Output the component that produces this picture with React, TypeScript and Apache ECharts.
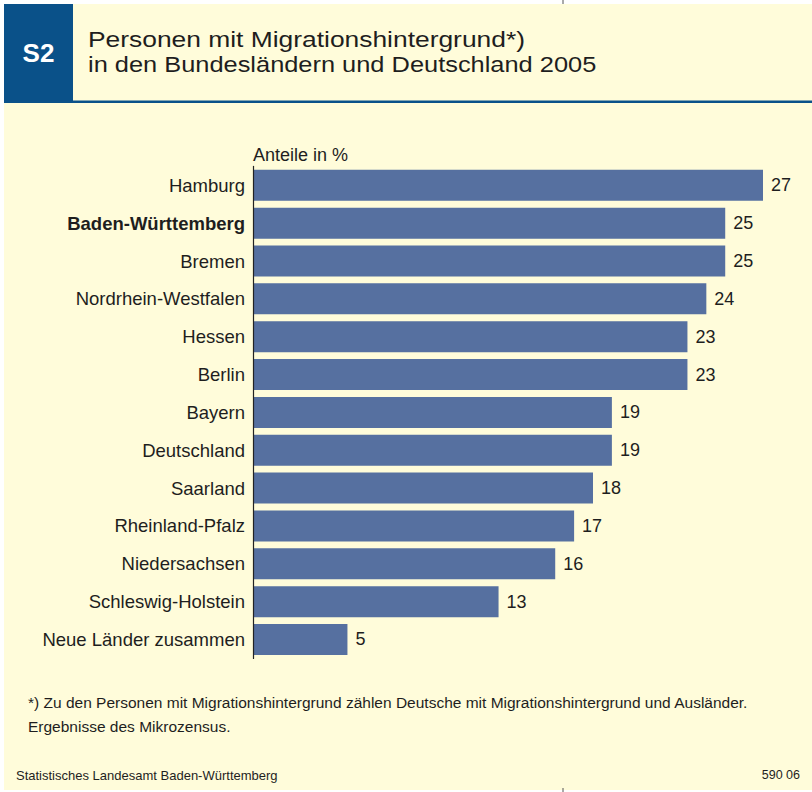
import React, { useEffect, useRef } from "react";
import * as echarts from "echarts";

const categories = [
  "Hamburg",
  "Baden-Württemberg",
  "Bremen",
  "Nordrhein-Westfalen",
  "Hessen",
  "Berlin",
  "Bayern",
  "Deutschland",
  "Saarland",
  "Rheinland-Pfalz",
  "Niedersachsen",
  "Schleswig-Holstein",
  "Neue Länder zusammen",
];
const values = [27, 25, 25, 24, 23, 23, 19, 19, 18, 17, 16, 13, 5];
const highlighted = ["Baden-Württemberg"];

const titleLines = [
  "Personen mit Migrationshintergrund*)",
  "in den Bundesländern und Deutschland 2005",
];
const badge = "S2";
const axisTitle = "Anteile in %";
const footnotes = [
  "*) Zu den Personen mit Migrationshintergrund zählen Deutsche mit Migrationshintergrund und Ausländer.",
  "Ergebnisse des Mikrozensus.",
];
const source = "Statistisches Landesamt Baden-Württemberg";
const code = "590 06";

const CREAM = "#FFFCDA";
const BLUE = "#0A5189";
const BAR = "#5670A0";
const TEXT = "#1E1E1E";
const FONT = "'Liberation Sans', Arial, Helvetica, sans-serif";

export default function App() {
  const ref = useRef<HTMLDivElement>(null);
  useEffect(() => {
    document.body.style.margin = "0";
    const chart = echarts.init(ref.current!, undefined, { renderer: "svg" });
    chart.setOption({
      animation: false,
      backgroundColor: "#ffffff",
      textStyle: { fontFamily: FONT },
      graphic: [
        { type: "rect", z: -10, shape: { x: 4, y: 4, width: 808, height: 786 }, style: { fill: CREAM } },
        { type: "rect", z: -9, shape: { x: 4, y: 4, width: 69, height: 97 }, style: { fill: BLUE } },
        { type: "rect", z: -9, shape: { x: 4, y: 100.5, width: 808, height: 2.5 }, style: { fill: BLUE } },
        { type: "line", shape: { x1: 563, y1: 0, x2: 563, y2: 4 }, style: { stroke: "#555", lineWidth: 1 } },
        { type: "line", shape: { x1: 563, y1: 788, x2: 563, y2: 792 }, style: { stroke: "#555", lineWidth: 1 } },
        {
          type: "text",
          x: 38.5,
          y: 53,
          style: { text: badge, fill: "#ffffff", font: `bold 26px ${FONT}`, align: "center", verticalAlign: "middle" },
        },
        {
          type: "text",
          x: 88,
          y: 39,
          scaleX: 1.2,
          style: { text: titleLines[0], fill: TEXT, font: `22px ${FONT}`, align: "left", verticalAlign: "middle" },
        },
        {
          type: "text",
          x: 88,
          y: 64,
          scaleX: 1.155,
          style: { text: titleLines[1], fill: TEXT, font: `22px ${FONT}`, align: "left", verticalAlign: "middle" },
        },
        {
          type: "text",
          x: 253,
          y: 154.5,
          style: { text: axisTitle, fill: TEXT, font: `18px ${FONT}`, align: "left", verticalAlign: "middle" },
        },
        {
          type: "text",
          x: 28,
          y: 702.5,
          style: { text: footnotes[0], fill: TEXT, font: `15.5px ${FONT}`, align: "left", verticalAlign: "middle" },
        },
        {
          type: "text",
          x: 28,
          y: 726.5,
          style: { text: footnotes[1], fill: TEXT, font: `15.5px ${FONT}`, align: "left", verticalAlign: "middle" },
        },
        {
          type: "text",
          x: 16,
          y: 775,
          style: { text: source, fill: TEXT, font: `13px ${FONT}`, align: "left", verticalAlign: "middle" },
        },
        {
          type: "text",
          x: 800,
          y: 775,
          style: { text: code, fill: TEXT, font: `12.5px ${FONT}`, align: "right", verticalAlign: "middle" },
        },
      ],
      grid: { left: 253, right: 49, top: 166.4, bottom: 133.6, containLabel: false },
      xAxis: {
        type: "value",
        min: 0,
        max: 27,
        show: false,
      },
      yAxis: {
        type: "category",
        data: categories,
        inverse: true,
        axisLine: { show: true, lineStyle: { color: "#222", width: 1.2 } },
        axisTick: { show: false },
        axisLabel: {
          margin: 8,
          color: TEXT,
          fontSize: 18.5,
          fontFamily: FONT,
          formatter: (v: string) => (highlighted.includes(v) ? `{b|${v}}` : v),
          rich: { b: { fontWeight: "bold", fontSize: 18.5, color: TEXT, fontFamily: FONT } },
        },
        z: 5,
      },
      series: [
        {
          type: "bar",
          data: values,
          barWidth: 31,
          itemStyle: { color: BAR },
          label: {
            show: true,
            position: "right",
            distance: 8,
            color: TEXT,
            fontSize: 18,
            fontFamily: FONT,
          },
        },
      ],
    });
    return () => chart.dispose();
  }, []);
  return <div ref={ref} style={{ width: 812, height: 792 }} />;
}
